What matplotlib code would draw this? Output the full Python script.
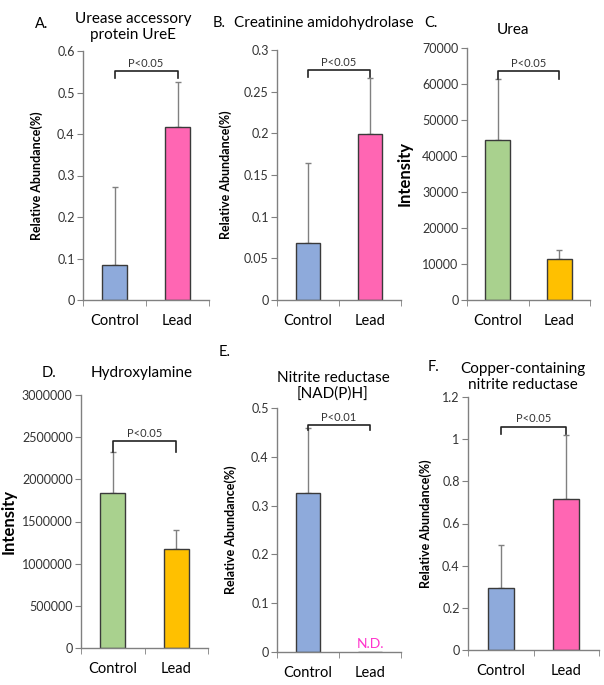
import numpy as np
import matplotlib
matplotlib.use("Agg")
import matplotlib.pyplot as plt

plt.rcParams['font.family'] = ['Lato', 'DejaVu Sans']

groups = ["Control", "Lead"]

# values and the top of each (upward-only) error bar
a_vals = [0.085, 0.417]
a_err_top = [0.273, 0.525]
b_vals = [0.068, 0.199]
b_err_top = [0.165, 0.266]
c_vals = [44500, 11300]
c_err_top = [61500, 14000]
d_vals = [1840000, 1170000]
d_err_top = [2320000, 1400000]
e_vals = [0.326, 0.0]
e_err_top = [0.458, 0.0]
f_vals = [0.293, 0.715]
f_err_top = [0.50, 1.02]

W, H = 604, 685
fig = plt.figure(figsize=(W / 100, H / 100), dpi=100)

BLUE, PINK = "#8eaadb", "#ff66b3"
GREEN, ORANGE = "#a9d18e", "#ffc000"
EDGE = "#3a3a3a"
GREY = "#808080"
TXT = "#333333"


def px_axes(left, right, top, bottom):
    return fig.add_axes([left / W, 1 - bottom / H, (right - left) / W, (bottom - top) / H])


def panel(box, vals, err_top, colors, ymax, ystep, ylabel, label_x, bold_big,
          letter, letter_xy, title, title_xy, pval, br_y, br_drop, fmt):
    ax = px_axes(*box)
    x = np.arange(len(vals))
    ax.bar(x, vals, width=0.4, color=colors, edgecolor=EDGE, linewidth=1.0, zorder=2)
    for xi, v, e in zip(x, vals, err_top):
        if e > v:
            ax.errorbar(xi, v, yerr=[[0], [e - v]], color=GREY, lw=1.0,
                        capsize=2.5, capthick=1.0, zorder=1)
    ax.set_xlim(-0.5, 1.5)
    ax.set_ylim(0, ymax)
    ax.set_yticks(np.arange(0, ymax + ystep / 2, ystep))
    ax.set_yticklabels([fmt(t) for t in ax.get_yticks()], fontsize=9, color=TXT)
    ax.set_xticks(x)
    ax.set_xticklabels(groups, fontsize=10.5, color="black")
    ax.tick_params(axis="x", length=0, pad=10)
    ax.set_xticks([-0.5, 0.5, 1.5], minor=True)
    ax.tick_params(axis="x", which="minor", length=4, direction="out", color=GREY)
    ax.tick_params(axis="y", length=4, direction="out", color=GREY, pad=2)
    for s in ["top", "right"]:
        ax.spines[s].set_visible(False)
    for s in ["left", "bottom"]:
        ax.spines[s].set_color(GREY)
        ax.spines[s].set_linewidth(1.0)
    if bold_big:
        ax.set_ylabel(ylabel, fontsize=12, fontweight="bold")
    else:
        ax.set_ylabel(ylabel, fontsize=9, fontweight="bold")
    ax.yaxis.set_label_coords((label_x - box[0]) / (box[1] - box[0]), 0.5)
    # significance bracket
    ax.plot([0, 0, 1, 1], [br_y - br_drop, br_y, br_y, br_y - br_drop],
            color="#222222", lw=1.2, clip_on=False, zorder=3)
    ax.text(0.5, br_y + ymax * 0.008, pval, ha="center", va="bottom", fontsize=8, color=TXT)
    fig.text(letter_xy[0] / W, 1 - letter_xy[1] / H, letter, fontsize=10.5, ha="center", va="center")
    fig.text(title_xy[0] / W, 1 - title_xy[1] / H, title, fontsize=11, ha="center",
             va="center", linespacing=1.15)
    return ax


def dec(t):
    return "%g" % round(t, 4)


def integer(t):
    return "%d" % int(round(t))


panel((83, 209, 51, 300), a_vals, a_err_top, [BLUE, PINK], 0.6, 0.1,
      "Relative Abundance(%)", 43, False, "A.", (42, 24),
      "Urease accessory\nprotein UreE", (133, 27), "P<0.05", 0.553, 0.018, dec)

panel((277, 401, 50, 300), b_vals, b_err_top, [BLUE, PINK], 0.3, 0.05,
      "Relative Abundance(%)", 232, False, "B.", (219, 23),
      "Creatinine amidohydrolase", (324, 23), "P<0.05", 0.276, 0.008, dec)

panel((467, 590, 48, 300), c_vals, c_err_top, [GREEN, ORANGE], 70000, 10000,
      "Intensity", 413, True, "C.", (431, 23),
      "Urea", (513, 30), "P<0.05", 63500, 2000, integer)

panel((81, 208, 395, 648), d_vals, d_err_top, [GREEN, ORANGE], 3000000, 500000,
      "Intensity", 17, True, "D.", (49, 373),
      "Hydroxylamine", (142, 373), "P<0.05", 2450000, 120000, integer)

ax_e = panel((277, 401, 408, 652), e_vals, e_err_top, [BLUE, PINK], 0.5, 0.1,
             "Relative Abundance(%)", 237, False, "E.", (225, 352),
             "Nitrite reductase\n[NAD(P)H]", (333, 386), "P<0.01", 0.465, 0.011, dec)
ax_e.text(1, 0.004, "N.D.", ha="center", va="bottom", fontsize=10, color="#ff33cc")

panel((468, 599, 397, 650), f_vals, f_err_top, [BLUE, PINK], 1.2, 0.2,
      "Relative Abundance(%)", 432, False, "F.", (433, 367),
      "Copper-containing\nnitrite reductase", (523, 377), "P<0.05", 1.06, 0.035, dec)

fig.savefig("out.png", dpi=100)
